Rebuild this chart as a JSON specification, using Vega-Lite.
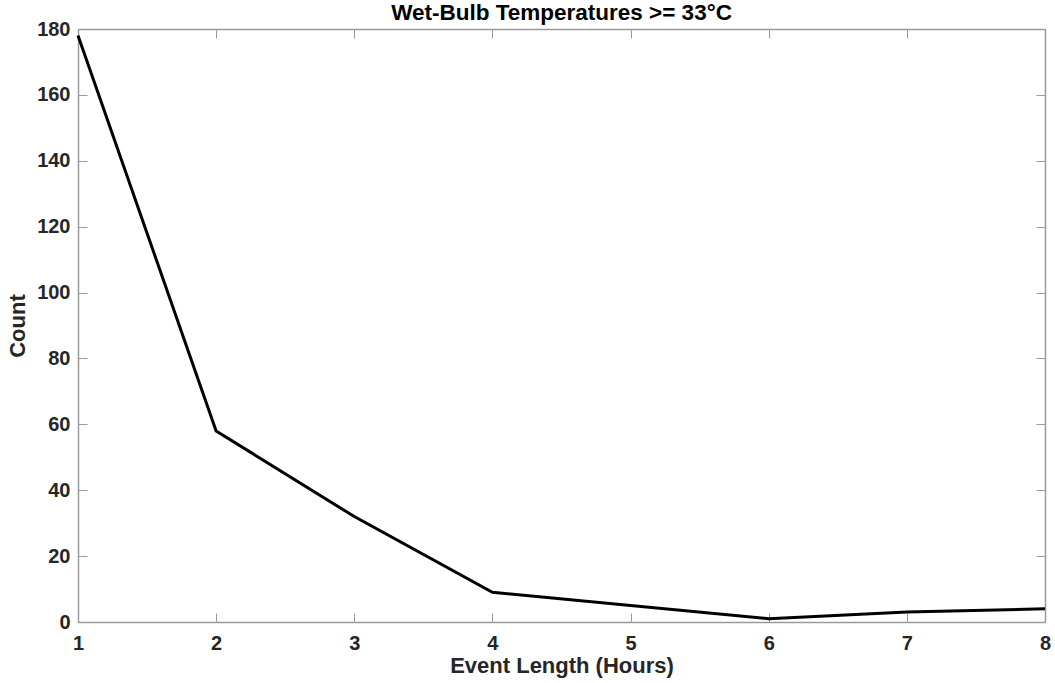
{
  "$schema": "https://vega.github.io/schema/vega-lite/v6.json",
  "autosize": {"type": "none"},
  "width": 967,
  "height": 593,
  "padding": {"left": 78, "top": 29, "right": 10, "bottom": 61},
  "background": "white",
  "title": {
    "text": "Wet-Bulb Temperatures >= 33°C",
    "font": "Liberation Sans",
    "fontSize": 22.5,
    "fontWeight": "bold",
    "color": "#000000",
    "baseline": "alphabetic",
    "offset": 0,
    "dy": 23
  },
  "config": {
    "view": {"stroke": null},
    "axis": {
      "domainColor": "#9a9a9a",
      "domainWidth": 1.5,
      "tickColor": "#9a9a9a",
      "tickWidth": 1,
      "tickSize": -9,
      "grid": false,
      "labelFlush": false,
      "labelFont": "Liberation Sans",
      "labelFontSize": 20,
      "labelFontWeight": "bold",
      "labelColor": "#262626",
      "titleFont": "Liberation Sans",
      "titleFontSize": 22,
      "titleFontWeight": "bold",
      "titleColor": "#262626"
    }
  },
  "data": {
    "values": [
      {"hours": 1, "count": 178},
      {"hours": 2, "count": 58},
      {"hours": 3, "count": 32},
      {"hours": 4, "count": 9},
      {"hours": 5, "count": 5},
      {"hours": 6, "count": 1},
      {"hours": 7, "count": 3},
      {"hours": 8, "count": 4}
    ]
  },
  "layer": [
    {
      "mark": {"type": "line", "color": "#000000", "strokeWidth": 3},
      "encoding": {
        "x": {
          "field": "hours", "type": "quantitative",
          "scale": {"domain": [1, 8], "nice": false},
          "axis": {"values": [1, 2, 3, 4, 5, 6, 7, 8], "title": "Event Length (Hours)", "labelPadding": 20, "titlePadding": 2}
        },
        "y": {
          "field": "count", "type": "quantitative",
          "scale": {"domain": [0, 180], "nice": false},
          "axis": {"values": [0, 20, 40, 60, 80, 100, 120, 140, 160, 180], "title": "Count", "labelPadding": 17, "titlePadding": 7}
        }
      }
    },
    {
      "mark": {"type": "line", "opacity": 0},
      "encoding": {
        "x": {
          "field": "hours", "type": "quantitative",
          "scale": {"domain": [1, 8], "nice": false},
          "axis": {"orient": "top", "values": [1, 2, 3, 4, 5, 6, 7, 8], "labels": false, "title": null, "labelPadding": 0}
        },
        "y": {
          "field": "count", "type": "quantitative",
          "scale": {"domain": [0, 180], "nice": false},
          "axis": {"orient": "right", "values": [0, 20, 40, 60, 80, 100, 120, 140, 160, 180], "labels": false, "title": null, "labelPadding": 0}
        }
      }
    }
  ],
  "resolve": {"axis": {"x": "independent", "y": "independent"}}
}
